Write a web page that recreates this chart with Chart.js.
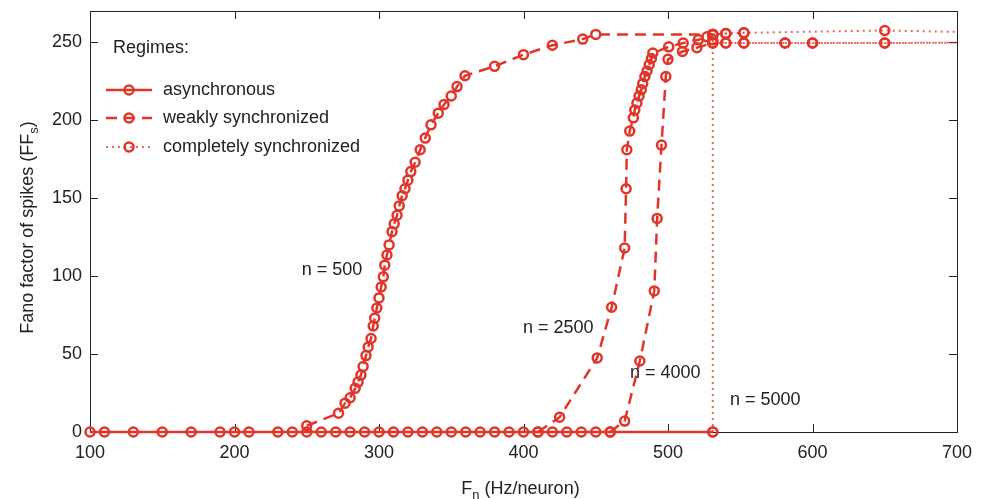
<!DOCTYPE html>
<html>
<head>
<meta charset="utf-8">
<script src="https://cdn.jsdelivr.net/npm/chart.js@4.4.1/dist/chart.umd.min.js"></script>
<style>
  html, body { margin: 0; padding: 0; background: #fff; }
</style>
</head>
<body>
<canvas id="fano" width="982" height="499"></canvas>
<script>
// values (x = F_n in Hz/neuron, y = Fano factor)
var asyncX = [100, 110, 130, 150, 170, 190, 200, 210, 230, 240, 250, 260, 270, 280, 290, 300, 310, 320, 330, 340, 350, 360, 370, 380, 390, 400, 410, 420, 430, 440, 450, 460, 531];
var asyncY = [0, 0, 0, 0, 0, 0, 0, 0, 0, 0, 0, 0, 0, 0, 0, 0, 0, 0, 0, 0, 0, 0, 0, 0, 0, 0, 0, 0, 0, 0, 0, 0, 0];

var weak500X = [250, 272, 276.5, 280, 283.5, 285.5, 287.5, 289, 291, 292.5, 294.5, 296, 297, 298.5, 300, 301.5, 303, 304, 305.5, 307, 309, 310.5, 312.5, 314, 316, 318, 320, 322, 325, 328.5, 332, 336, 341, 345, 350, 354, 359.5, 380, 400, 420, 441, 450, 531];
var weak500Y = [4, 12, 18.5, 22, 28, 32, 36.5, 42, 49, 54.5, 60, 68, 73, 79.5, 86, 93, 99.5, 107, 113.5, 120, 128.5, 133.5, 139, 145, 151.5, 156, 161.5, 167, 173, 181, 188.5, 197, 204.5, 210, 215.5, 221.5, 228.5, 234.5, 242, 248, 252, 255, 255];

var weak2500X = [410, 425, 451, 461, 470, 471, 471.5, 473.5, 476, 477, 478.5, 480, 481.5, 482.5, 484, 485.5, 487, 488.5, 489.5, 500.5, 510.5, 521, 527, 531];
var weak2500Y = [0, 9.5, 47.5, 80, 118, 156, 181, 193, 201.5, 206.5, 211, 215.5, 219.5, 223.5, 228, 231.5, 235.5, 239.5, 243, 247, 249.5, 251.5, 253.5, 255];

var weak4000X = [460, 470, 480.5, 490.5, 492.5, 495.5, 498.5, 500, 510, 520, 531];
var weak4000Y = [0, 7, 45.5, 90.5, 137, 184, 228, 239, 244, 246.5, 249.5];

var full500X = [531, 540, 552.5, 650, 760];
var full500Y = [255, 255.5, 256, 257.5, 255.5];
var full2500X = [531, 540, 552.5];
var full2500Y = [255, 255.5, 256];
var full4000X = [531, 540, 552.5, 581, 600, 650, 760];
var full4000Y = [249.5, 249.5, 249.5, 249.5, 249.5, 249.5, 249.8];
var full5000X = [531, 531, 540, 552.5, 581, 600, 650, 760];
var full5000Y = [0, 251.5, 249.5, 249.5, 249.5, 249.5, 249.5, 249.8];

var regimes = ['asynchronous', 'weakly synchronized', 'completely synchronized'];
var curveLabels = ['n = 500', 'n = 2500', 'n = 4000', 'n = 5000'];
var labelX = [246.5, 399.7, 473.7, 542.9];
var labelY = [104, 66.8, 37.9, 20.5];

var RED = '#e1352a';
var RED_LIGHT = 'rgba(225,53,42,0.75)';
var FONT = '"Liberation Sans", Arial, Helvetica, sans-serif';

function pts(xs, ys) {
  var out = [];
  for (var i = 0; i < xs.length; i++) out.push({x: xs[i], y: ys[i]});
  return out;
}

var styles = {
  asynchronous: {borderDash: [], borderWidth: 2.5, borderColor: RED},
  weak: {borderDash: [11, 7], borderWidth: 2.5, borderColor: RED},
  full: {borderDash: [2, 4], borderWidth: 2, borderColor: RED_LIGHT}
};

function series(xs, ys, st) {
  return {
    data: pts(xs, ys),
    showLine: true,
    tension: 0,
    borderColor: st.borderColor,
    borderWidth: st.borderWidth,
    borderDash: st.borderDash,
    pointRadius: 4.5,
    pointHoverRadius: 4.5,
    pointBorderWidth: 2.5,
    pointBorderColor: RED,
    pointBackgroundColor: 'rgba(0,0,0,0)',
    clip: {left: 12, top: 12, right: 0, bottom: 12}
  };
}

// box + inward ticks on all four sides, legend, labels, axis titles
var frame = {
  id: 'frame',
  beforeDatasetsDraw: function(chart) {
    var ctx = chart.ctx, a = chart.chartArea, x = chart.scales.x, y = chart.scales.y;
    ctx.save();
    ctx.strokeStyle = '#222';
    ctx.lineWidth = 1;
    ctx.strokeRect(Math.round(a.left) + 0.5, Math.round(a.top) + 0.5, Math.round(a.right - a.left), Math.round(a.bottom - a.top));
    ctx.beginPath();
    x.ticks.forEach(function(t) {
      var px = Math.round(x.getPixelForValue(t.value)) + 0.5;
      ctx.moveTo(px, a.bottom); ctx.lineTo(px, a.bottom - 8);
      ctx.moveTo(px, a.top); ctx.lineTo(px, a.top + 8);
    });
    y.ticks.forEach(function(t) {
      var py = Math.round(y.getPixelForValue(t.value)) + 0.5;
      ctx.moveTo(a.left, py); ctx.lineTo(a.left + 8, py);
      ctx.moveTo(a.right, py); ctx.lineTo(a.right - 8, py);
    });
    ctx.stroke();
    ctx.restore();
  },
  afterDraw: function(chart) {
    var ctx = chart.ctx, a = chart.chartArea, x = chart.scales.x, y = chart.scales.y;
    ctx.save();
    ctx.fillStyle = '#222';
    ctx.textBaseline = 'middle';
    ctx.textAlign = 'left';

    // curve labels
    ctx.font = '18px ' + FONT;
    for (var i = 0; i < curveLabels.length; i++) {
      ctx.fillText(curveLabels[i], x.getPixelForValue(labelX[i]), y.getPixelForValue(labelY[i]));
    }

    // legend
    ctx.fillText('Regimes:', 113, 48);
    var rows = [90, 118, 147];
    var keys = ['asynchronous', 'weak', 'full'];
    for (var r = 0; r < regimes.length; r++) {
      var st = styles[keys[r]];
      ctx.save();
      ctx.strokeStyle = st.borderColor;
      ctx.lineWidth = st.borderWidth;
      ctx.setLineDash(st.borderDash);
      ctx.beginPath();
      ctx.moveTo(106, rows[r]); ctx.lineTo(152, rows[r]);
      ctx.stroke();
      ctx.setLineDash([]);
      ctx.strokeStyle = RED;
      ctx.lineWidth = 2.5;
      ctx.beginPath();
      ctx.arc(129, rows[r], 4.5, 0, Math.PI * 2);
      ctx.stroke();
      ctx.restore();
      ctx.fillText(regimes[r], 163, rows[r]);
    }

    // x title with subscript
    ctx.textBaseline = 'alphabetic';
    var big = '18px ' + FONT, small = '13px ' + FONT;
    ctx.font = big; var w1 = ctx.measureText('F').width; var w3 = ctx.measureText(' (Hz/neuron)').width;
    ctx.font = small; var w2 = ctx.measureText('n').width;
    var cx = (a.left + a.right) / 2 - 3;
    var sx = cx - (w1 + w2 + w3) / 2, by = 494;
    ctx.font = big; ctx.fillText('F', sx, by);
    ctx.font = small; ctx.fillText('n', sx + w1, by + 5);
    ctx.font = big; ctx.fillText(' (Hz/neuron)', sx + w1 + w2, by);

    // y title with subscript
    ctx.translate(33, (a.top + a.bottom) / 2 + 6);
    ctx.rotate(-Math.PI / 2);
    ctx.font = big; var t1 = ctx.measureText('Fano factor of spikes (FF').width; var t3 = ctx.measureText(')').width;
    ctx.font = small; var t2 = ctx.measureText('s').width;
    var s0 = -(t1 + t2 + t3) / 2;
    ctx.font = big; ctx.fillText('Fano factor of spikes (FF', s0, 0);
    ctx.font = small; ctx.fillText('s', s0 + t1, 5);
    ctx.font = big; ctx.fillText(')', s0 + t1 + t2, 0);
    ctx.restore();
  }
};

var chart = new Chart(document.getElementById('fano').getContext('2d'), {
  type: 'scatter',
  data: {
    datasets: [
      series(full500X, full500Y, styles.full),
      series(full2500X, full2500Y, styles.full),
      series(full4000X, full4000Y, styles.full),
      series(full5000X, full5000Y, styles.full),
      series(weak500X, weak500Y, styles.weak),
      series(weak2500X, weak2500Y, styles.weak),
      series(weak4000X, weak4000Y, styles.weak),
      series(asyncX, asyncY, styles.asynchronous)
    ]
  },
  options: {
    responsive: false,
    devicePixelRatio: 1,
    animation: false,
    layout: {padding: {left: 0, right: 25, top: 11, bottom: 0}},
    plugins: {legend: {display: false}, tooltip: {enabled: false}},
    scales: {
      x: {
        type: 'linear', min: 100, max: 700,
        grid: {display: false, drawTicks: false, tickLength: 0}, border: {display: false},
        ticks: {stepSize: 100, includeBounds: false, color: '#222', padding: 10, font: {size: 18, family: FONT}},
        afterFit: function(s) { s.height = 67; s.paddingLeft = 0; s.paddingRight = 0; }
      },
      y: {
        type: 'linear', min: 0, max: 270,
        grid: {display: false, drawTicks: false, tickLength: 0}, border: {display: false},
        ticks: {stepSize: 50, includeBounds: false, color: '#222', padding: 8, font: {size: 18, family: FONT}},
        afterFit: function(s) { s.width = 90; s.paddingTop = 0; s.paddingBottom = 0; }
      }
    }
  },
  plugins: [frame]
});
</script>
</body>
</html>
